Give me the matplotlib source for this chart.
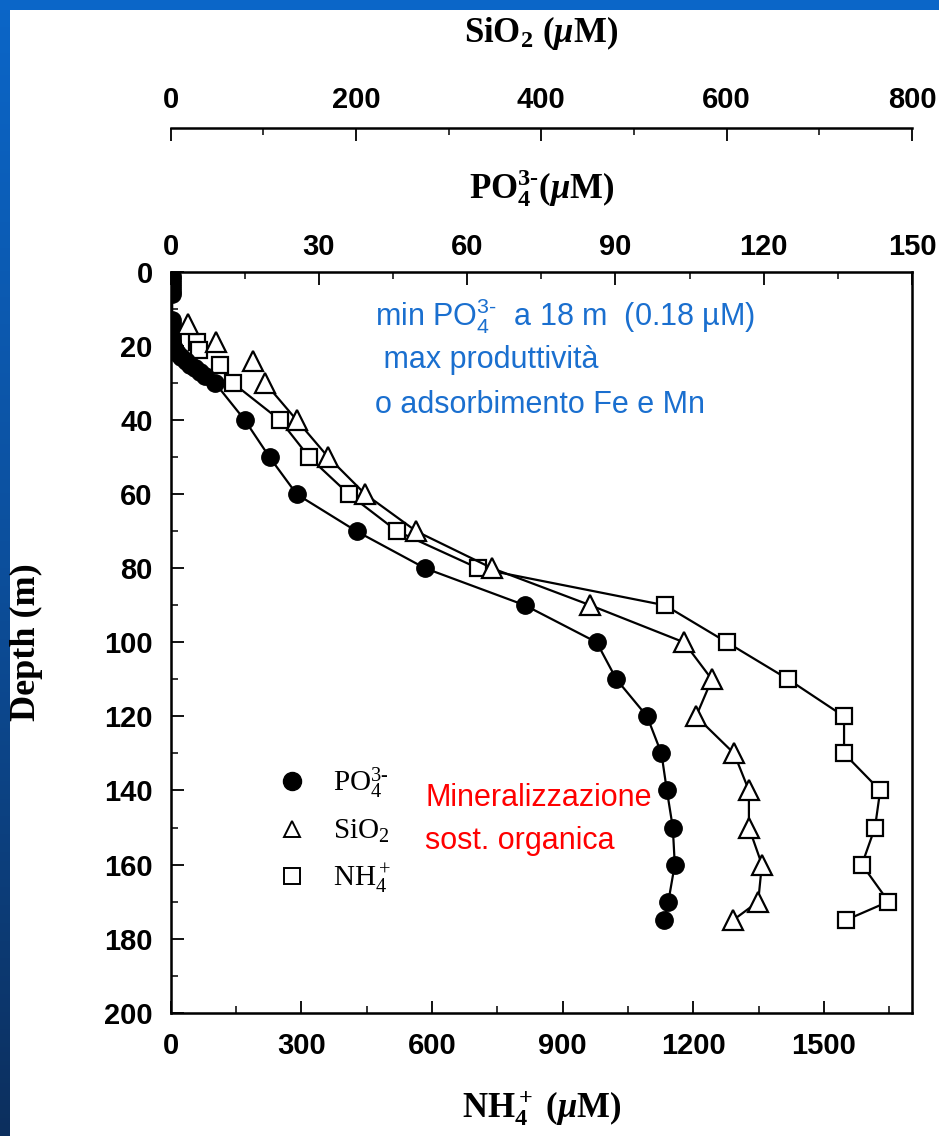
import matplotlib
matplotlib.use('Agg')
from matplotlib import pyplot as pl
from matplotlib.lines import Line2D
from matplotlib.ticker import MultipleLocator
import numpy as np

# PO4 (uM) vs depth (m)
depth_po4 = [1, 2, 3, 4, 5, 6, 13, 14, 15, 16, 17, 18, 19, 20, 21, 22, 23,
             24, 25, 26, 27, 28, 30, 40, 50, 60, 70, 80, 90, 100, 110, 120,
             130, 140, 150, 160, 170, 175]
po4 = [0.3, 0.3, 0.3, 0.3, 0.3, 0.3, 0.3, 0.3, 0.2, 0.2, 0.2, 0.18, 0.3,
       0.5, 0.8, 1.2, 2.0, 3.0, 4.0, 5.0, 6.0, 7.0, 9.0, 15.0, 20.0, 25.5,
       37.6, 51.5, 71.7, 86.2, 90.2, 96.4, 99.3, 100.4, 101.6, 102.0, 100.7,
       99.9]

# SiO2 (uM): the first three points are not joined by the line
depth_si = [14, 19, 24, 30, 40, 50, 60, 70, 80, 90, 100, 110, 120, 130,
            140, 150, 160, 170, 175]
si = [19, 49, 89, 102, 136, 170, 210, 265, 347, 453, 554, 584, 567, 608,
      624, 624, 638, 634, 607]

# NH4 (uM): the first three points are not joined by the line
depth_nh4 = [19, 21, 25, 30, 40, 50, 60, 70, 80, 90, 100, 110, 120, 130,
             140, 150, 160, 170, 175]
nh4 = [60, 65, 113, 143, 251, 318, 409, 520, 706, 1135, 1277, 1418, 1546,
       1546, 1629, 1617, 1587, 1648, 1550]
n_loose = 3

pl.rcParams['mathtext.fontset'] = 'custom'
pl.rcParams['mathtext.rm'] = 'Liberation Serif'
pl.rcParams['mathtext.bf'] = 'Liberation Serif:bold'
pl.rcParams['mathtext.it'] = 'Liberation Serif:italic:bold'
pl.rcParams['mathtext.sf'] = 'Liberation Sans'

W, H = 939, 1136
fig = pl.figure(figsize=(W/100, H/100), dpi=100)
fig.patch.set_facecolor('white')

# slide border (blue strip left and top)
grad = np.linspace(0, 1, 256).reshape(-1, 1)
cmap = matplotlib.colors.LinearSegmentedColormap.from_list(
    'slide', ['#0b66c8', '#0d4f9c', '#0c2f5e'])
bl = fig.add_axes([0, 0, 10/W, 1])
bl.imshow(grad, aspect='auto', cmap=cmap)
bl.axis('off')
bt = fig.add_axes([0, 1-10/H, 1, 10/H])
bt.set_facecolor('#0b66c8')
bt.set_xticks([])
bt.set_yticks([])
for s in bt.spines.values():
    s.set_visible(False)

left, right = 170.7, 912.0
top, bottom = 272.0, 1012.7
ax = fig.add_axes([left/W, 1-bottom/H, (right-left)/W, (bottom-top)/H])
ax_po = ax.twiny()
ax_si = ax.twiny()

tick_font = {'family': 'Liberation Sans', 'weight': 'bold', 'size': 21}
lw = 1.6

ax.set_ylim(200, 0)
ax.set_xlim(0, 1702)
ax_po.set_xlim(0, 150)
ax_si.set_xlim(0, 800)

# data
ax.plot(nh4[n_loose-1:], depth_nh4[n_loose-1:], color='k', lw=lw, zorder=2)
ax.plot(nh4, depth_nh4, ls='none', marker='s', ms=12, mfc='white',
        mec='k', mew=lw, zorder=3)
ax_si.plot(si[n_loose:], depth_si[n_loose:], color='k', lw=lw, zorder=2)
ax_si.plot(si, depth_si, ls='none', marker='^', ms=14, mfc='white',
           mec='k', mew=lw, zorder=3)
ax_po.plot(po4, depth_po4, color='k', lw=lw, marker='o', ms=12.5, mfc='k',
           mec='k', zorder=4)

# depth / NH4 axes
ax.yaxis.set_major_locator(MultipleLocator(20))
ax.yaxis.set_minor_locator(MultipleLocator(10))
ax.xaxis.set_major_locator(MultipleLocator(300))
ax.xaxis.set_minor_locator(MultipleLocator(150))
ax.set_xticks(np.arange(0, 1501, 300))
ax.tick_params(axis='both', which='major', direction='in', length=9,
               width=1.3)
ax.tick_params(axis='x', which='major', pad=14)
ax.tick_params(axis='y', which='major', pad=13)
ax.tick_params(axis='both', which='minor', direction='in', length=5,
               width=1.1)
ax.tick_params(axis='x', which='both', top=False)
ax.tick_params(axis='y', which='both', right=False)
for lab in ax.get_xticklabels() + ax.get_yticklabels():
    lab.set_fontproperties(matplotlib.font_manager.FontProperties(**tick_font))
for s in ax.spines.values():
    s.set_linewidth(1.8)

# PO4 axis (top spine)
ax_po.xaxis.set_major_locator(MultipleLocator(30))
ax_po.xaxis.set_minor_locator(MultipleLocator(15))
ax_po.tick_params(axis='x', which='major', direction='in', length=9,
                  width=1.3, pad=8)
ax_po.tick_params(axis='x', which='minor', direction='in', length=5,
                  width=1.1)
for lab in ax_po.get_xticklabels():
    lab.set_fontproperties(matplotlib.font_manager.FontProperties(**tick_font))

# SiO2 axis (detached line above)
ax_si.spines['top'].set_position(('outward', (top-128)*0.72))
for k in ['left', 'right', 'bottom']:
    ax_si.spines[k].set_visible(False)
ax_si.spines['top'].set_linewidth(1.8)
ax_si.xaxis.set_major_locator(MultipleLocator(200))
ax_si.xaxis.set_minor_locator(MultipleLocator(100))
ax_si.tick_params(axis='x', which='major', direction='in', length=9,
                  width=1.3, pad=10)
ax_si.tick_params(axis='x', which='minor', direction='in', length=5,
                  width=1.1)
for lab in ax_si.get_xticklabels():
    lab.set_fontproperties(matplotlib.font_manager.FontProperties(**tick_font))

# axis titles
title_kw = {'fontsize': 25}
ax.set_xlabel(r'$\mathbf{NH_4^+\ (}\mu\mathbf{M)}$', labelpad=20, **title_kw)
ax_po.set_xlabel(r'$\mathbf{PO_4^{3‐}(}\mu\mathbf{M)}$', labelpad=25,
                 **title_kw)
ax_si.set_xlabel(r'$\mathbf{SiO_2\ (}\mu\mathbf{M)}$', labelpad=32,
                 **title_kw)
ax.set_ylabel('Depth (m)', family='Liberation Serif', weight='bold',
              fontsize=26, labelpad=44)

# legend
handles = [
    Line2D([], [], ls='none', marker='o', ms=13, mfc='k', mec='k'),
    Line2D([], [], ls='none', marker='^', ms=11, mfc='white', mec='k',
           mew=1.4),
    Line2D([], [], ls='none', marker='s', ms=11, mfc='white', mec='k',
           mew=1.4),
]
labels = [r'$\mathrm{PO_4^{3‐}}$', r'$\mathrm{SiO_2}$', r'$\mathrm{NH_4^+}$']
leg = ax.legend(handles, labels, loc='upper left', frameon=False,
                bbox_to_anchor=((263-left)/(right-left), 1-(751-top)/(bottom-top)),
                fontsize=21, handlelength=1.0, handletextpad=0.9,
                labelspacing=0.55, borderpad=0.0)

# annotations
blue = '#1a6fcf'
ann_kw = {'transform': ax.transAxes, 'fontsize': 22,
          'family': 'Liberation Sans', 'va': 'center', 'ha': 'left'}
ax.text((375-left)/(right-left), 1-(316-top)/(bottom-top),
        r'min $\mathsf{PO_4^{3‐}}$  a 18 m  (0.18 µM)', color=blue, **ann_kw)
ax.text((375-left)/(right-left), 1-(360-top)/(bottom-top),
        ' max produttività', color=blue, **ann_kw)
ax.text((375-left)/(right-left), 1-(405-top)/(bottom-top),
        'o adsorbimento Fe e Mn', color=blue, **ann_kw)

red = '#ff0000'
ax.text((425-left)/(right-left), 1-(798-top)/(bottom-top),
        'Mineralizzazione', color=red, **ann_kw)
ax.text((425-left)/(right-left), 1-(841-top)/(bottom-top),
        'sost. organica', color=red, **ann_kw)

fig.savefig('out.png', dpi=100, facecolor=fig.get_facecolor())
